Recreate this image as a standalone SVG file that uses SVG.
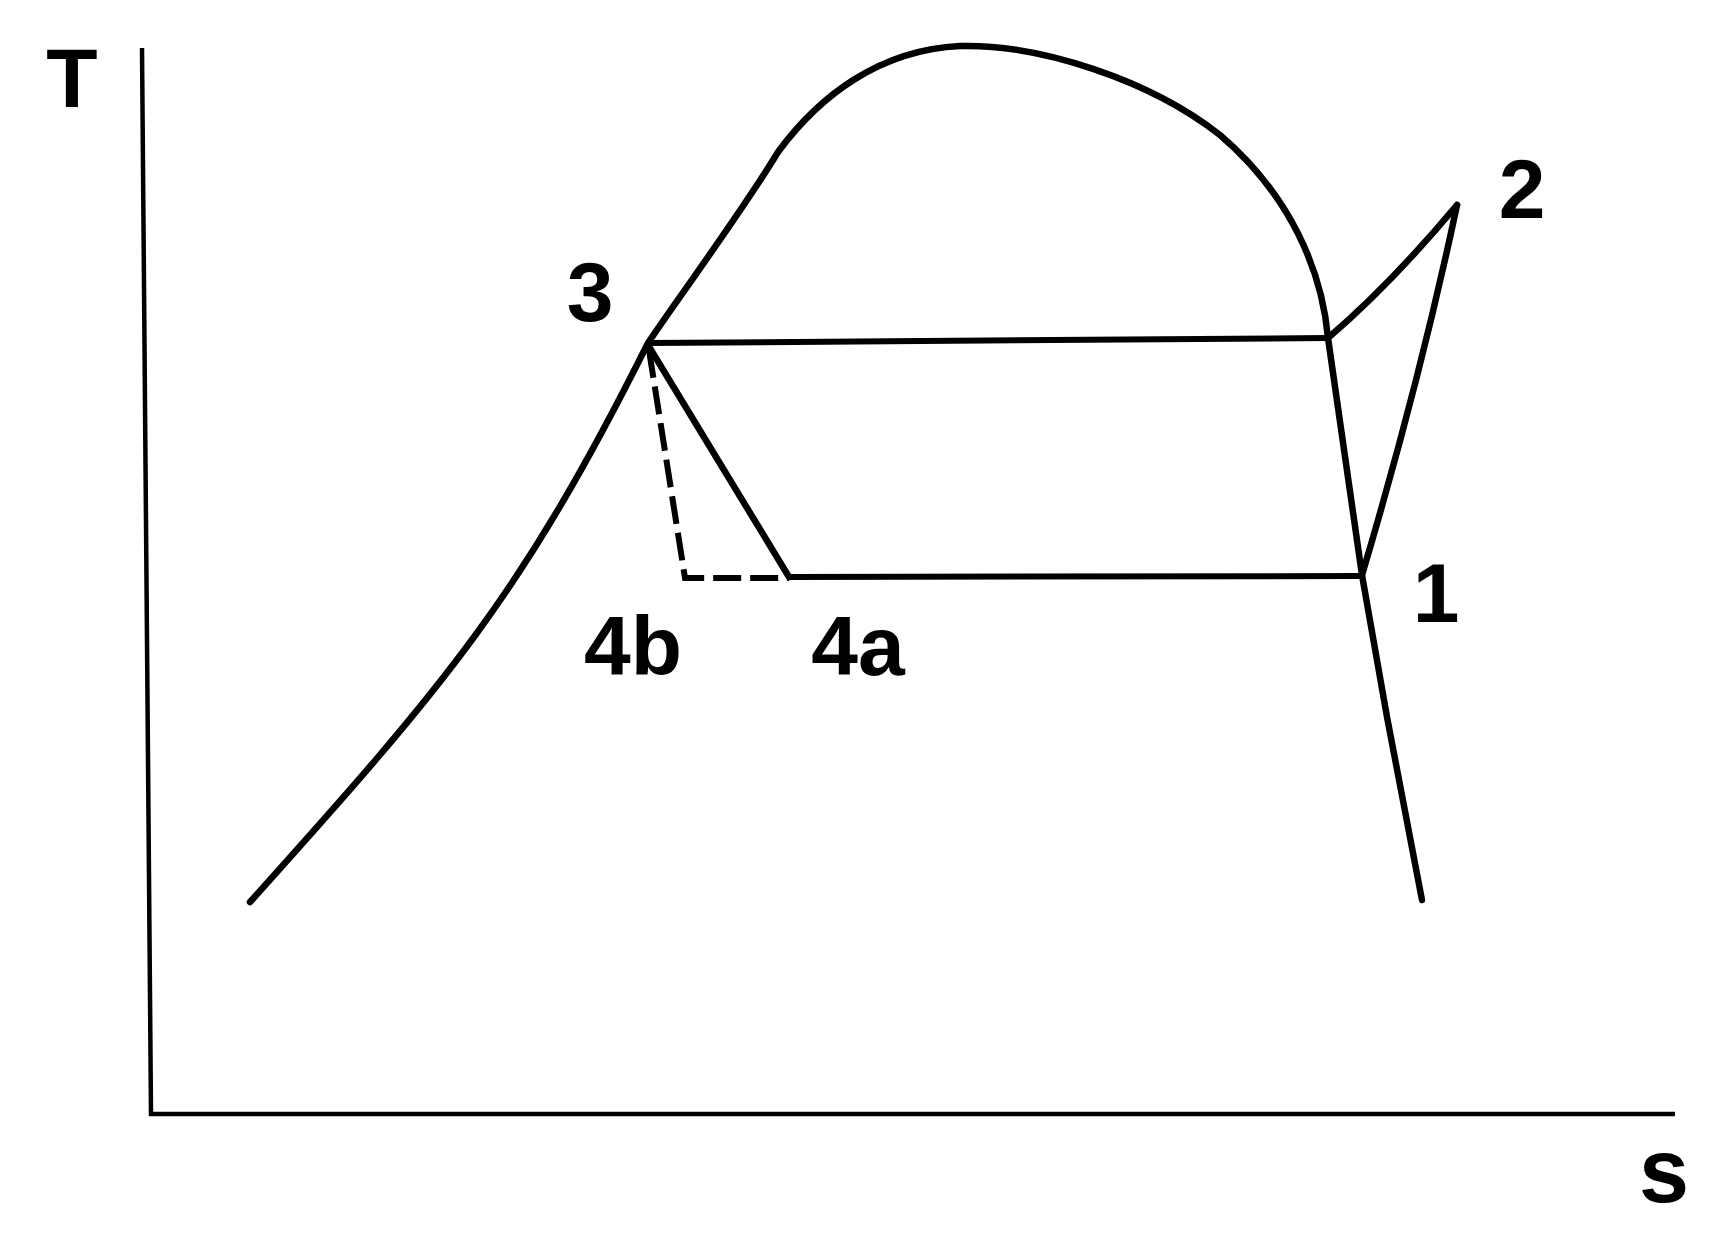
<svg xmlns="http://www.w3.org/2000/svg" width="1730" height="1245" viewBox="0 0 1730 1245">
<style>
.c{fill:none;stroke:#000;stroke-width:6.5;stroke-linecap:round;stroke-linejoin:round}
.h{fill:none;stroke:#000;stroke-width:6;stroke-linecap:butt}
.ax{fill:none;stroke:#000;stroke-width:4.5}
.d{fill:none;stroke:#000;stroke-width:6;stroke-dasharray:28 9}
.t{font-family:"Liberation Sans",Arial,sans-serif;font-weight:bold;font-size:84px;fill:#000;text-anchor:middle}
</style>
<rect width="1730" height="1245" fill="#fff"/>
<g id="axes">
<path class="ax" d="M142,48 L151,1114 L1675,1114"/>
<text class="t" x="72" y="107">T</text>
<text class="t" x="1664" y="1202" style="font-size:90px">s</text>
</g>
<g id="connectors">
<path id="dome" class="c" d="M250,902 C448,682 523,593 648,343 C680,295 740,215 778,152 C820,95 880,50 960,46 C1040,44 1150,80 1220,135 C1290,195 1322,270 1328,338 L1362,575 L1387,717 L1422,900"/>
<path id="condense" class="h" d="M648,343 L1328,338"/>
<path id="evap" class="h" d="M789,577 L1362,576"/>
<path id="expand-a" class="c" d="M648,345 L789,577"/>
<path id="expand-b" class="d" d="M649,350 L685,578 L789,578"/>
<path id="compress" class="c" d="M1362,575 Q1420,380 1457,205"/>
<path id="desuper" class="c" d="M1457,205 Q1390,285 1328,338"/>
</g>
<g id="p3"><text class="t" x="590" y="321">3</text></g>
<g id="p2"><text class="t" x="1522" y="218">2</text></g>
<g id="p1"><text class="t" x="1436" y="622">1</text></g>
<g id="p4b"><text class="t" x="633" y="675">4b</text></g>
<g id="p4a"><text class="t" x="858" y="675">4a</text></g>
</svg>
